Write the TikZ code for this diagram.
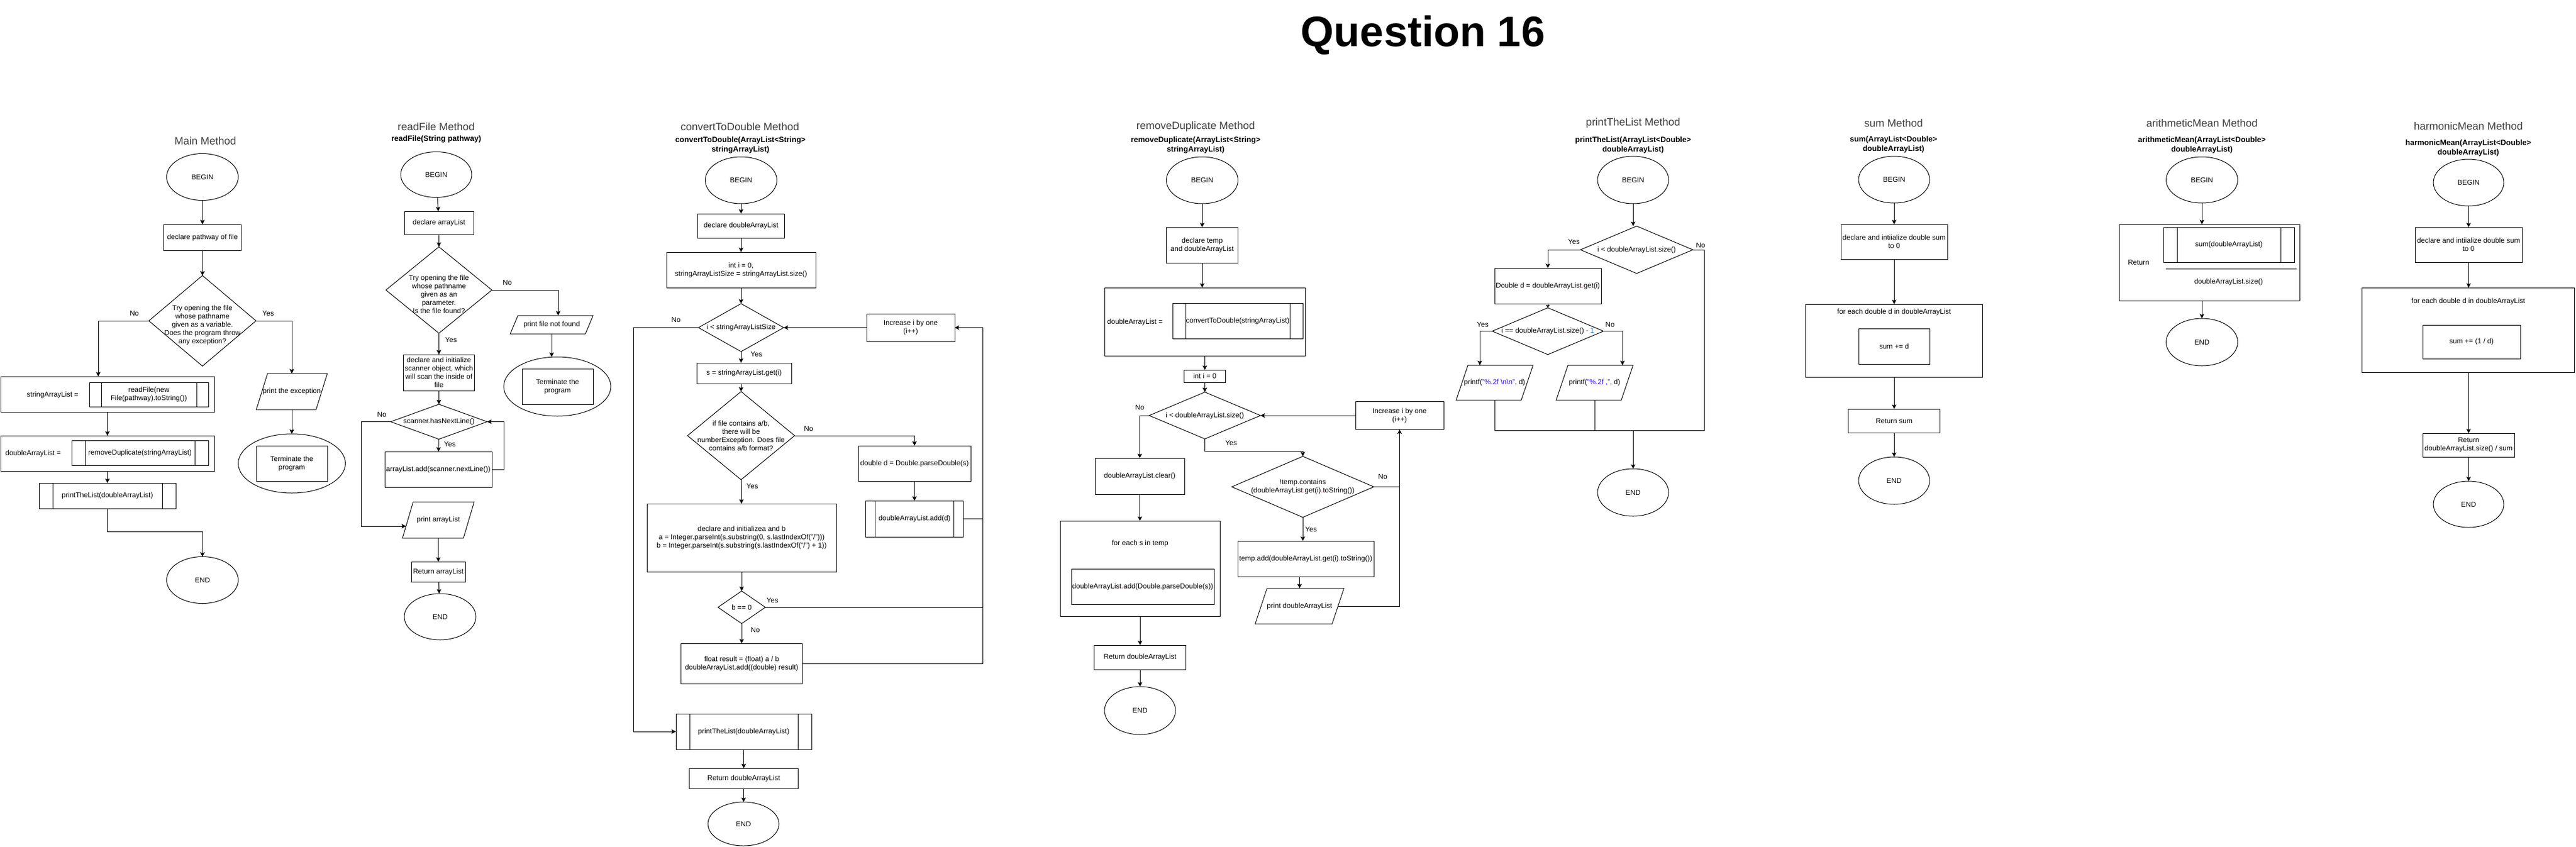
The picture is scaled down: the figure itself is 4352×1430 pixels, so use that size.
\documentclass[tikz,border=0pt]{standalone}
\usepackage{fontspec}
\setmainfont{Liberation Sans}
\usetikzlibrary{shapes.geometric,arrows.meta}
\definecolor{strc}{HTML}{2A00FF}
\definecolor{numc}{HTML}{1E6FE0}
\definecolor{opc}{HTML}{E0245E}
\newcommand\rd{{\color{opc}.}}
\newcommand\drawpara[2]{\draw ([xshift=#2]#1.north west) -- (#1.north east) -- ([xshift=-#2]#1.south east) -- (#1.south west) -- cycle;}
\newcommand\subl[2]{\draw ([xshift=#2]#1.north west) -- ([xshift=#2]#1.south west) ([xshift=-#2]#1.north east) -- ([xshift=-#2]#1.south east);}
\begin{document}
\begin{tikzpicture}[x=1pt,y=-1pt,line width=1pt,
  every node/.style={font=\fontsize{12}{14}\selectfont},
  box/.style 2 args={draw, rectangle, align=center, inner sep=0pt, outer sep=0pt, minimum width=#1, minimum height=#2},
  term/.style 2 args={draw, ellipse, inner sep=0pt, outer sep=0pt, minimum width=#1, minimum height=#2},
  dec/.style 2 args={draw, diamond, inner sep=0pt, outer sep=0pt, minimum width=#1, minimum height=#2},
  io/.style 2 args={rectangle, align=center, inner sep=0pt, outer sep=0pt, minimum width=#1, minimum height=#2},
  lab/.style={inner sep=0pt, align=center},
  ttl/.style={font=\fontsize{18}{21}\selectfont, text=black!75},
  sub/.style={font=\fontsize{13}{16}\selectfont\bfseries, align=center},
  arr/.style={-{Stealth[length=7.5pt,width=7.5pt,inset=1.5pt]}},
  sarr/.style={-{Stealth[length=5pt,width=6pt,inset=1pt]}},
]
\fill[white] (0,0) rectangle (4352,1430);
\useasboundingbox (0,0) rectangle (4352,1430);

\node[font=\fontsize{72}{80}\selectfont\bfseries] (qt) at (2404,59) {Question 16};

% ===== Main Method =====
\node[ttl] (t1) at (347,238) {Main Method};
\node[term={121}{79}] (b1) at (342,299) {BEGIN};
\node[box={131}{44}] (m1) at (342,401) {declare pathway of file};
\node[dec={181}{153}] (q1) at (342,542) {};
\node[lab] (q1t) at (342,549) {Try opening the file\\whose pathname\\given as a variable.\\Does the program throw\\any exception?};
\node[lab] (q1n) at (227,529) {No};
\node[lab] (q1y) at (453,529) {Yes};
\node[box={361}{60}] (sa) at (181.5,666) {};
\node[lab] (sat) at (89,667) {stringArrayList =};
\node[box={201}{41}] (sai) at (251.5,666.5) {readFile(new\\File(pathway).toString())};
\subl{sai}{20}
\node[box={361}{60}] (da) at (181.5,766) {};
\node[lab] (dat) at (56,766) {doubleArrayList =};
\node[box={231}{42}] (dai) at (236.5,765) {removeDuplicate(stringArrayList)};
\subl{dai}{23}
\node[box={231}{43}] (pl1) at (181.5,837.5) {printTheList(doubleArrayList)};
\subl{pl1}{23}
\node[term={121}{79}] (e1) at (342,980) {END};
\node[io={120}{61}] (pe) at (493,661.5) {print the exception};
\drawpara{pe}{19}
\node[term={181}{100}] (te1) at (493,783) {};
\node[box={120}{60}] (te1i) at (493,783) {Terminate the\\program};

\draw[arr] (b1) -- (m1);
\draw[arr] (m1) -- (q1);
\coordinate (saIn) at (166,636);
\draw[arr] (q1.west) -| (saIn);
\draw[arr] (q1.east) -| (pe.north);
\draw[arr] (sa) -- (da);
\draw[arr] (da) -- (pl1);
\coordinate (m1j) at (181.5,898);
\draw[arr] (pl1.south) -- (m1j) -| (e1.north);
\draw[arr] (pe) -- (te1);

% ===== readFile Method =====
\node[ttl] (t2) at (737,214) {readFile Method};
\node[sub] (s2) at (737,235) {readFile(String pathway)};
\node[term={120}{77}] (b2) at (737,295) {BEGIN};
\node[box={117}{39}] (f1) at (741.5,376.5) {declare arrayList};
\node[dec={179}{146}] (q2) at (741.5,490) {};
\node[lab] (q2t) at (741.5,497) {Try opening the file\\whose pathname\\given as an\\parameter.\\Is the file found?};
\node[lab] (q2n) at (857,477) {No};
\node[io={140}{31}] (pf) at (932,548.5) {print file not found};
\drawpara{pf}{13}
\node[term={181}{100}] (te2) at (941.5,653) {};
\node[box={120}{60}] (te2i) at (942,653) {Terminate the\\program};
\node[lab] (q2y) at (762,574) {Yes};
\node[box={120}{61}] (f2) at (741.5,629.5) {declare and initialize\\scanner object, which\\will scan the inside of\\file};
\node[dec={163}{59}] (q3) at (741.5,712.5) {};
\node[lab] (q3t) at (741.5,712.5) {scanner.hasNextLine()};
\node[lab] (q3y) at (760,750) {Yes};
\node[lab] (q3n) at (645,700) {No};
\node[box={181}{60}] (f3) at (740.5,793) {arrayList.add(scanner.nextLine())};
\node[io={121}{61}] (pa) at (740.5,878.5) {print arrayList};
\drawpara{pa}{18}
\node[box={91}{34}] (f4) at (740.5,966) {Return arrayList};
\node[term={121}{78}] (e2) at (743.5,1042) {END};

\draw[arr] (b2) -- (f1);
\draw[arr] (f1) -- (q2);
\coordinate (pfIn) at (943,533);
\draw[arr] (q2.east) -| (pfIn);
\draw[arr] (pf.south) -- (pf.south |- te2.north);
\draw[arr] (q2) -- (f2);
\draw[arr] (f2) -- (q3);
\draw[arr] (q3) -- (f3);
\coordinate (f3r) at (851,793);
\draw[arr] (f3.east) -- (f3r) |- (q3.east);
\coordinate (q3l) at (610,712.5);
\coordinate (paL) at (686,889);
\draw[arr] (q3.west) -- (q3l) |- (paL);
\draw[arr] (pa) -- (f4);
\draw[arr] (f4) -- (e2);

% ===== convertToDouble Method =====
\node[ttl] (t3) at (1250,214) {convertToDouble Method};
\node[sub] (s3) at (1251,245) {convertToDouble(ArrayList<String>\\stringArrayList)};
\node[term={121}{79}] (b3) at (1252,304.5) {BEGIN};
\node[box={147}{41}] (c1) at (1252,381.5) {declare doubleArrayList};
\node[box={252}{60}] (c2) at (1252,456) {int i = 0,\\stringArrayListSize = stringArrayList.size()};
\node[dec={144}{81}] (c3) at (1252,553.5) {};
\node[lab] (c3t) at (1252,553.5) {i < stringArrayListSize};
\node[lab] (c3n) at (1142,540) {No};
\node[box={149}{47}] (c4) at (1538.5,553.5) {Increase i by one\\(i++)};
\node[lab] (c3y) at (1278,598) {Yes};
\node[box={160}{35}] (c5) at (1257,630.5) {s = stringArrayList.get(i)};
\node[dec={181}{149}] (c6) at (1252,736) {};
\node[lab] (c6t) at (1252,736) {if file contains a/b,\\there will be\\numberException. Does file\\contains a/b format?};
\node[lab] (c6n) at (1366,724) {No};
\node[box={190}{60}] (c7) at (1545,783) {double d = Double.parseDouble(s)};
\node[box={165}{61}] (c8) at (1545,876.5) {doubleArrayList.add(d)};
\subl{c8}{16}
\node[lab] (c6y) at (1271,821) {Yes};
\node[box={320}{115}] (c9) at (1253,908.5) {declare and initializea and b\\a = Integer.parseInt(s.substring(0, s.lastIndexOf("/")))\\b = Integer.parseInt(s.substring(s.lastIndexOf("/") + 1))};
\node[dec={80}{55}] (c10) at (1253,1026) {};
\node[lab] (c10t) at (1253,1026) {b == 0};
\node[lab] (c10y) at (1305,1014) {Yes};
\node[lab] (c10n) at (1276,1064) {No};
\node[box={205}{68}] (c11) at (1253,1121) {float result = (float) a / b\\doubleArrayList.add((double) result)};
\node[box={229}{60}] (pl3) at (1256.5,1236) {printTheList(doubleArrayList)};
\subl{pl3}{23}
\node[box={184}{34}] (r3b) at (1256.5,1315) {Return doubleArrayList};
\node[term={120}{74}] (e3) at (1256,1392) {END};

\draw[arr] (b3) -- (c1);
\draw[arr] (c1) -- (c2);
\draw[arr] (c2) -- (c3);
\draw[arr] (c4) -- (c3);
\coordinate (c3l) at (1070,553.5);
\draw[arr] (c3.west) -- (c3l) |- (pl3.west);
\draw[arr] (c3.south) -- (c3.south |- c5.north);
\draw[arr] (c6.north |- c5.south) -- (c6.north);
\draw[arr] (c6.east) -| (c7.north);
\draw[arr] (c7) -- (c8);
\draw[arr] (c6) -- (c9);
\draw[arr] (c9) -- (c10);
\draw[arr] (c10) -- (c11);
\coordinate (c8r) at (1660,876.5);
\coordinate (c10r) at (1660,1026);
\coordinate (c11r) at (1660,1121);
\coordinate (c4r) at (1660,553.5);
\draw (c8.east) -- (c8r);
\draw (c10.east) -- (c10r);
\draw[arr] (c11.east) -- (c11r) -- (c4r) -- (c4.east);
\draw[arr] (pl3) -- (r3b);
\draw[arr] (r3b) -- (e3);

% ===== removeDuplicate Method =====
\node[ttl] (t4) at (2020,214) {removeDuplicate Method};
\node[sub] (s4) at (2020,245) {removeDuplicate(ArrayList<String>\\stringArrayList)};
\node[term={121}{79}] (b4) at (2031,304.5) {BEGIN};
\node[box={121}{60}] (d41) at (2031,414) {declare temp\\and doubleArrayList};
\node[box={339}{115}] (d42) at (2035.5,543.5) {};
\node[lab] (d42t) at (1917.5,544) {doubleArrayList =};
\node[box={220}{60}] (d42i) at (2091,542) {convertToDouble(stringArrayList)};
\subl{d42i}{22}
\node[box={70}{21}] (d43) at (2035.5,635.5) {int i = 0};
\node[dec={188}{79}] (d44) at (2035.5,702) {};
\node[lab] (d44t) at (2035.5,702) {i < doubleArrayList.size()};
\node[lab] (d44n) at (1925.5,688) {No};
\node[box={149}{47}] (d45) at (2364.5,702) {Increase i by one\\(i++)};
\node[box={151}{61}] (d46) at (1925.5,804.5) {doubleArrayList\rd clear()};
\node[box={270}{161}] (d47) at (1926,960.5) {};
\node[lab] (d47t) at (1926,918.5) {for each s in temp};
\node[box={241}{60}] (d47i) at (1930.5,991) {doubleArrayList\rd add(Double.parseDouble(s))};
\node[box={155}{41}] (d48) at (1926,1110.5) {Return doubleArrayList};
\node[term={120}{81}] (e4) at (1926,1200.5) {END};
\node[lab] (d44y) at (2080,748) {Yes};
\node[dec={240}{103}] (d49) at (2201,822.5) {};
\node[lab] (d49t) at (2201,822.5) {!temp.contains\\(doubleArrayList\rd get(i)\rd toString())};
\node[lab] (d49n) at (2336,805) {No};
\node[lab] (d49y) at (2215,894.5) {Yes};
\node[box={230}{60}] (d410) at (2206,944) {temp\rd add(doubleArrayList\rd get(i)\rd toString())};
\node[io={150}{60}] (d411) at (2195.5,1024) {print doubleArrayList};
\drawpara{d411}{20}

\draw[arr] (b4) -- (d41);
\draw[arr] (d41.south) -- (d41.south |- d42.north);
\draw[arr] (d42) -- (d43);
\draw[arr] (d43) -- (d44);
\draw[arr] (d45) -- (d44);
\draw[arr] (d44.west) -| (d46.north);
\draw[arr] (d46) -- (d47);
\draw[arr] (d47) -- (d48);
\draw[arr] (d48) -- (e4);
\coordinate (d44b) at (2035.5,762.5);
\draw[arr] (d44.south) -- (d44b) -| (d49.north);
\coordinate (d49r) at (2364.5,822.5);
\coordinate (d411r) at (2364.5,1024);
\draw[arr] (d49.east) -- (d49r) -- (d45.south);
\draw (d411r) -- (d49r);
\draw[arr] (d49.south) -- (d49.south |- d410.north);
\draw[arr] (d410.south -| d411) -- (d411.north);
\draw ([xshift=-10]d411.east) -- (d411r);

% ===== printTheList Method =====
\node[ttl] (t5) at (2759,208) {printTheList Method};
\node[sub] (s5) at (2759,245) {printTheList(ArrayList<Double>\\doubleArrayList)};
\node[term={120}{80}] (b5) at (2759,304) {BEGIN};
\node[dec={190}{80}] (p1) at (2765,422) {};
\node[lab] (p1t) at (2765,422) {i < doubleArrayList\rd size()};
\node[lab] (p1y) at (2659,408) {Yes};
\node[lab] (p1n) at (2873,414) {No};
\node[box={180}{60}] (p2) at (2615,483) {Double d = doubleArrayList\rd get(i)};
\node[dec={188}{79}] (p3) at (2615,559.5) {};
\node[lab] (p3t) at (2615,559.5) {i == doubleArrayList\rd size() {\color{opc}-} {\color{numc}1}};
\node[lab] (p3y) at (2505,548) {Yes};
\node[lab] (p3n) at (2720,548) {No};
\node[io={130}{59}] (pp1) at (2525,646.5) {printf({\color{strc}"\%.2f \textbackslash n\textbackslash n"}, d)};
\drawpara{pp1}{20}
\node[io={130}{59}] (pp2) at (2694,646.5) {printf({\color{strc}"\%.2f ,"}, d)};
\drawpara{pp2}{20}
\node[term={120}{80}] (e5) at (2759,832) {END};

\draw[arr] (b5.south) -- (b5.south |- p1.north);
\draw[arr] (p1.west) -| (p2.north);
\draw[sarr] (p2) -- (p3);
\coordinate (pp1in) at (2500,617);
\draw[arr] (p3.west) -| (pp1in);
\coordinate (pp2in) at (2741,617);
\draw[arr] (p3.east) -| (pp2in);
\coordinate (j1) at (2525,727);
\coordinate (j2) at (2694,727);
\coordinate (j3) at (2879,727);
\coordinate (j4) at (2759,727);
\coordinate (p1r) at (2879,422);
\draw (pp1.south) -- (j1) -- (j3) -- (p1r) -- (p1.east);
\draw (pp2.south) -- (j2);
\draw[arr] (j4) -- (e5);

% ===== sum Method =====
\node[ttl] (t6) at (3199,208) {sum Method};
\node[sub] (s6) at (3199,244) {sum(ArrayList<Double>\\doubleArrayList)};
\node[term={120}{79}] (b6) at (3200,303.5) {BEGIN};
\node[box={180}{59}] (m61) at (3200,408.5) {declare and intiialize double sum\\to 0};
\node[box={299}{123}] (m62) at (3200,575.5) {};
\node[lab] (m62t) at (3200,527) {for each double d in doubleArrayList};
\node[box={120}{60}] (m62i) at (3200,585) {sum += d};
\node[box={155}{40}] (m63) at (3200,711) {Return sum};
\node[term={120}{80}] (e6) at (3200,812) {END};
\draw[arr] (b6) -- (m61);
\draw[arr] (m61) -- (m62);
\draw[arr] (m62) -- (m63);
\draw[arr] (m63) -- (e6);

% ===== arithmeticMean Method =====
\node[ttl] (t7) at (3720,208) {arithmeticMean Method};
\node[sub] (s7) at (3720,245) {arithmeticMean(ArrayList<Double>\\doubleArrayList)};
\node[term={121}{78}] (b7) at (3720,304) {BEGIN};
\node[box={305}{129}] (a71) at (3732.5,443.5) {};
\node[box={221}{59}] (a71i) at (3765.5,413.5) {sum(doubleArrayList)};
\subl{a71i}{23}
\node[lab] (a71r) at (3613,443) {Return};
\coordinate (fl1) at (3659,454);
\coordinate (fl2) at (3880,454);
\draw (fl1) -- (fl2);
\node[lab] (a71d) at (3765,476) {doubleArrayList.size()};
\node[term={121}{80}] (e7) at (3720,578) {END};
\draw[arr] (b7.south) -- (b7.south |- a71.north);
\draw[arr] (a71.south -| e7) -- (e7);

% ===== harmonicMean Method =====
\node[ttl] (t8) at (4170,213) {harmonicMean Method};
\node[sub] (s8) at (4170,250) {harmonicMean(ArrayList<Double>\\doubleArrayList)};
\node[term={119}{79}] (b8) at (4170.5,308.5) {BEGIN};
\node[box={181}{59}] (h1) at (4170.5,413.5) {declare and intiialize double sum\\to 0};
\node[box={359}{143}] (h2) at (4170,557.5) {};
\node[lab] (h2t) at (4170,509) {for each double d in doubleArrayList};
\node[box={165}{57}] (h2i) at (4175.5,577.5) {sum += (1 / d)};
\node[box={155}{40}] (h3) at (4170.5,752) {Return\\doubleArrayList.size() / sum};
\node[term={119}{78}] (e8) at (4170.5,852) {END};
\draw[arr] (b8) -- (h1);
\draw[arr] (h1.south) -- (h1.south |- h2.north);
\draw[arr] (h2.south -| h3) -- (h3);
\draw[arr] (h3) -- (e8);
\end{tikzpicture}
\end{document}
